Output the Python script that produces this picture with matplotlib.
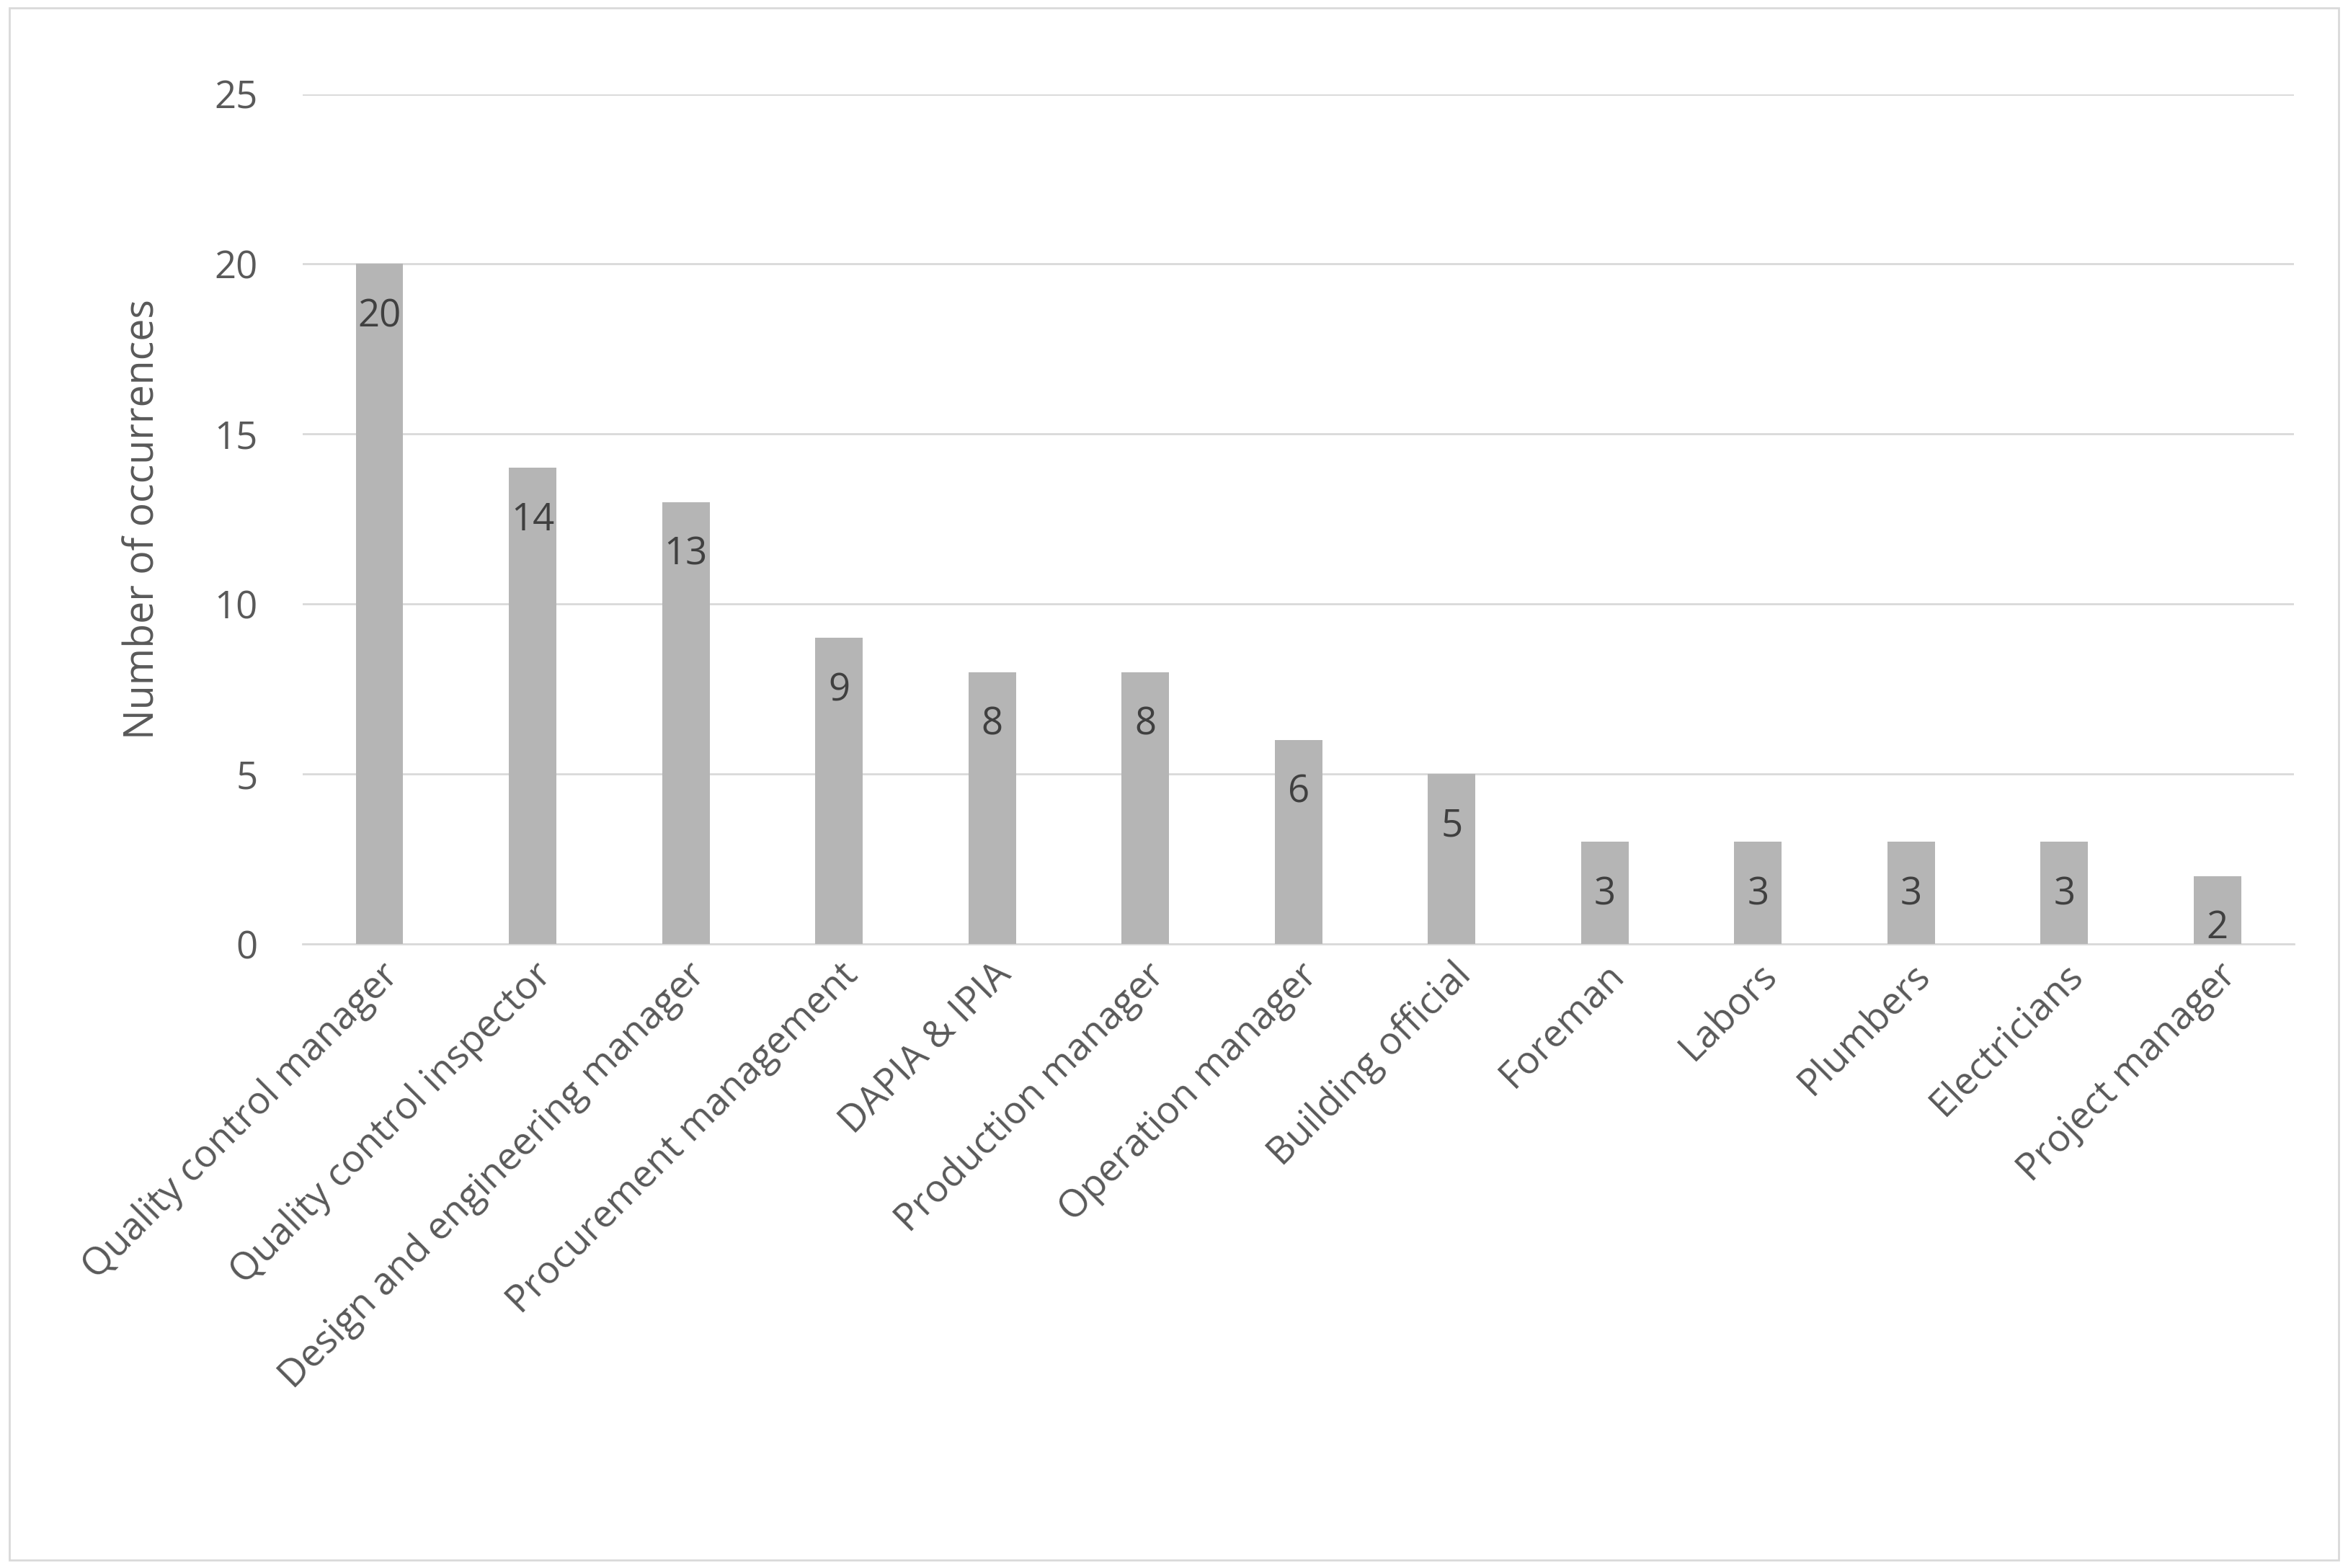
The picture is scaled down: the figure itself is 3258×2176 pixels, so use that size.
import matplotlib.pyplot as plt
from matplotlib.patches import Rectangle

roles = ["Quality control manager", "Quality control inspector",
         "Design and engineering manager", "Procurement management",
         "DAPIA & IPIA", "Production manager", "Operation manager",
         "Building official", "Foreman", "Labors", "Plumbers",
         "Electricians", "Project manager"]
counts = [20, 14, 13, 9, 8, 8, 6, 5, 3, 3, 3, 3, 2]
yticks = [0, 5, 10, 15, 20, 25]

plt.rcParams['font.family'] = ['Open Sans', 'DejaVu Sans']
txt = '#595959'

fig = plt.figure(figsize=(32.58, 21.76), dpi=100)
ax = fig.add_axes([0.129, 0.398, 0.848, 0.542])

x = range(len(roles))
ax.bar(x, counts, width=0.31, color='#b5b5b5', zorder=3)
for i, v in zip(x, counts):
    ax.text(i, v - 1.55, str(v), ha='center', va='center', fontsize=38,
            color='#404040', zorder=4)

ax.set_xlim(-0.5, len(roles) - 0.5)
ax.set_ylim(0, 25)
ax.set_yticks(yticks)
ax.yaxis.grid(True, color='#d9d9d9', linewidth=2, zorder=0)
ax.tick_params(axis='y', length=0, labelsize=38, labelcolor=txt, pad=45)
ax.tick_params(axis='x', length=0, labelsize=38, labelcolor=txt, pad=12)
ax.set_xticks(list(x))
ax.set_xticklabels(roles, rotation=45, ha='right', rotation_mode='anchor')
for s in ['top', 'right', 'left']:
    ax.spines[s].set_visible(False)
ax.spines['bottom'].set_color('#d9d9d9')
ax.spines['bottom'].set_linewidth(2)
ax.set_ylabel('Number of occurrences', fontsize=40, color=txt, labelpad=50)

fig.patches.append(Rectangle((0.004, 0.005), 0.992, 0.99, transform=fig.transFigure,
                             fill=False, edgecolor='#d9d9d9', linewidth=2))

fig.savefig('out.png', dpi=100)
